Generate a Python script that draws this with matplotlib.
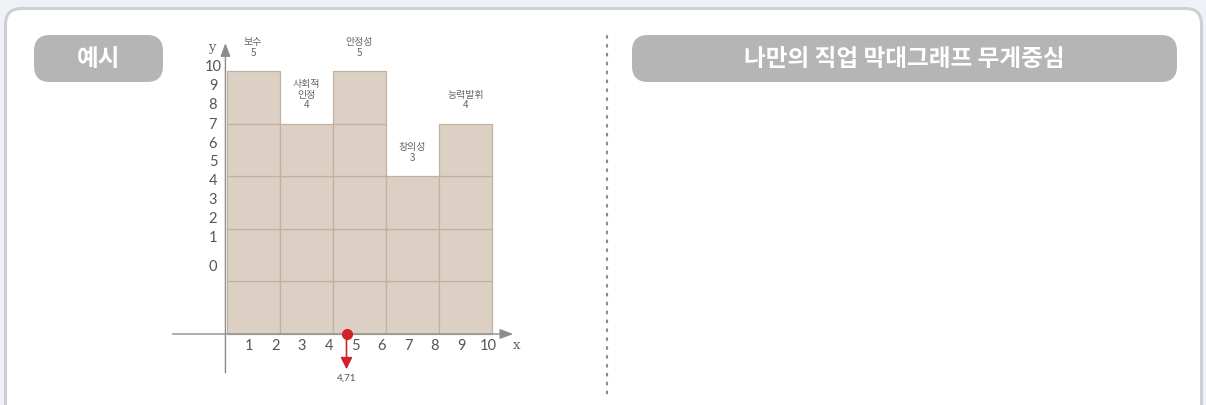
import matplotlib
matplotlib.use("Agg")
import matplotlib.pyplot as plt
from matplotlib.patches import FancyBboxPatch

# ---- data ----
categories = ["보수", "사회적\n인정", "안정성", "창의성", "능력발휘"]
weights = [5, 4, 5, 3, 4]
xtick_labels = ["1", "2", "3", "4", "5", "6", "7", "8", "9", "10"]
ytick_labels = ["10", "9", "8", "7", "6", "5", "4", "3", "2", "1", "0"]
ytick_pos = [5.07, 4.72, 4.35, 3.97, 3.61, 3.27, 2.91, 2.55, 2.18, 1.83, 1.27]
cog_x = 4.52
cog_label = "4,71"
badge_left = "예시"
badge_right = "나만의 직업 막대그래프 무게중심"

KR = ["Noto Sans CJK KR", "DejaVu Sans"]
NUM = ["Lato", "DejaVu Sans"]
W, H = 1206, 405

fig = plt.figure(figsize=(W / 100, H / 100), dpi=100)
fig.patch.set_facecolor("#eef2f7")

# overlay in pixel coordinates
ov = fig.add_axes([0, 0, 1, 1])
ov.set_xlim(0, W)
ov.set_ylim(H, 0)
ov.axis("off")

panel = FancyBboxPatch((5.5, 8.5), 1196, 430, boxstyle="round,pad=0,rounding_size=16",
                       facecolor="white", edgecolor="#cdd0d3", linewidth=2.2)
ov.add_patch(panel)

def badge(x0, x1, text):
    b = FancyBboxPatch((x0, 35), x1 - x0, 47, boxstyle="round,pad=0,rounding_size=16",
                       facecolor="#b4b5b4", edgecolor="none")
    ov.add_patch(b)
    ov.text((x0 + x1) / 2, 58.5, text, ha="center", va="center", color="white",
            fontsize=17, fontweight="bold", family=KR)

badge(34, 163, badge_left)
badge(632, 1177, badge_right)

ov.plot([607, 607], [36, 395], color="#8a8a8a", lw=1.6,
        linestyle=(0, (0.8, 3.2)), dash_capstyle="round")

# chart axes: x=0 at px 226.5 (26.55 px/unit), y=0 at py 334 (52.6 px/unit)
px0, px1, py0, py1 = 160, 530, 30, 390
ax = fig.add_axes([px0 / W, (H - py1) / H, (px1 - px0) / W, (py1 - py0) / H])
ax.set_xlim((px0 - 226.5) / 26.55, (px1 - 226.5) / 26.55)
ax.set_ylim((334 - py1) / 52.6, (334 - py0) / 52.6)
ax.axis("off")

fill = "#dcd0c4"
edge = "#c2b19f"
centers = [2 * i + 1 for i in range(len(weights))]
for k in range(max(weights)):
    xs = [c for c, w in zip(centers, weights) if w > k]
    ax.bar(xs, [1] * len(xs), bottom=k, width=2, color=fill, edgecolor=edge,
           linewidth=0.9, zorder=2)

for c, w, name in zip(centers, weights, categories):
    ax.text(c, w + 0.25, f"{name}\n{w}", ha="center", va="bottom", fontsize=7.2,
            color="#666666", family=KR, linespacing=1.1, zorder=5)

axis_col = "#8c8c8c"
ax.annotate("", xy=(10.8, 0), xytext=(-2.03, 0),
            arrowprops=dict(arrowstyle="-|>,head_length=0.8,head_width=0.3",
                            color=axis_col, lw=1.0, shrinkA=0, shrinkB=0), zorder=3)
ax.annotate("", xy=(-0.04, 5.53), xytext=(-0.04, -0.74),
            arrowprops=dict(arrowstyle="-|>,head_length=0.8,head_width=0.3",
                            color=axis_col, lw=1.0, shrinkA=0, shrinkB=0), zorder=3)
ax.text(10.93, -0.22, "x", ha="center", va="center", fontsize=9.5, color="#666666",
        family="DejaVu Serif")
ax.text(-0.55, 5.45, "y", ha="center", va="center", fontsize=9.5, color="#666666",
        family="DejaVu Serif")

for i, lab in enumerate(xtick_labels):
    ax.text(i + 1 - 0.15, -0.23, lab, ha="center", va="center", fontsize=10.5,
            color="#555555", family=NUM)
for p, lab in zip(ytick_pos, ytick_labels):
    ax.text(-0.51, p, lab, ha="center", va="center", fontsize=10.5,
            color="#555555", family=NUM)

red = "#d0222b"
ax.annotate("", xy=(cog_x, -0.67), xytext=(cog_x, 0),
            arrowprops=dict(arrowstyle="-|>,head_length=0.7,head_width=0.35",
                            color=red, lw=1.2, shrinkA=0, shrinkB=0), zorder=6)
ax.plot([cog_x], [0], "o", color=red, ms=7, zorder=7)
ax.text(cog_x, -0.84, cog_label, ha="center", va="center", fontsize=7.2, color="#555555",
        family=NUM)

fig.savefig("out.png", dpi=100, facecolor=fig.get_facecolor())
